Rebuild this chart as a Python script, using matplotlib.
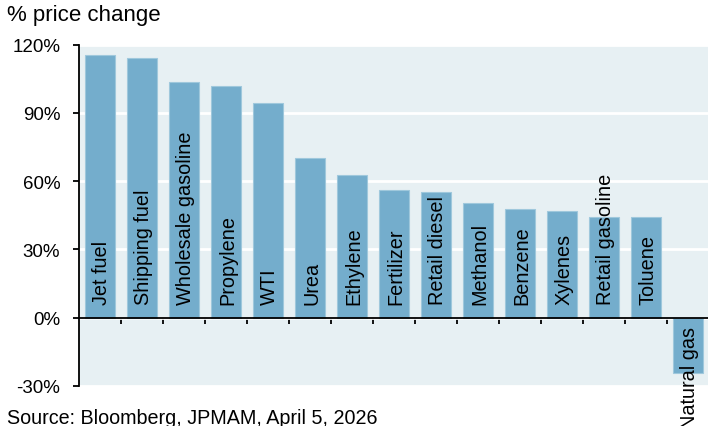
import matplotlib
matplotlib.use("Agg")
import matplotlib.pyplot as plt
import numpy as np

plt.rcParams['font.family'] = ['Liberation Sans', 'DejaVu Sans']

categories = ["Jet fuel", "Shipping fuel", "Wholesale gasoline", "Propylene", "WTI",
              "Urea", "Ethylene", "Fertilizer", "Retail diesel", "Methanol",
              "Benzene", "Xylenes", "Retail gasoline", "Toluene", "Natural gas"]
values = [115.6, 113.9, 103.7, 101.7, 94.1, 70.3, 62.8, 55.9, 55.3, 50.5,
          47.6, 47.0, 44.1, 44.1, -24.5]
y_ticks = [-30, 0, 30, 60, 90, 120]
y_tick_labels = ["-30%", "0%", "30%", "60%", "90%", "120%"]

W, H = 708, 427
fig = plt.figure(figsize=(W / 100, H / 100), dpi=100)
ax = fig.add_axes([79 / W, 1 - 387 / H, 630 / W, (387 - 45.5) / H])

bg = "#e7f0f3"
bar_color = "#74adcc"
ax.set_facecolor(bg)

x = np.arange(len(categories))
ax.bar(x, values, width=0.72, color=bar_color, edgecolor="#9fc8dc", linewidth=0.8, zorder=3)

ax.set_xlim(-0.5, len(categories) - 0.5)
ax.set_ylim(-30, 120)
ax.set_yticks(y_ticks)
ax.set_yticklabels(y_tick_labels)
ax.yaxis.grid(True, color="white", linewidth=2)
ax.set_axisbelow(True)

for s in ["top", "right"]:
    ax.spines[s].set_visible(False)
ax.spines["left"].set_color("black")
ax.spines["left"].set_linewidth(1.3)
ax.spines["bottom"].set_position(("data", 0))
ax.spines["bottom"].set_color("black")
ax.spines["bottom"].set_linewidth(1.3)
ax.spines["bottom"].set_zorder(4)

ax.set_xticks(np.arange(0.5, len(categories) - 0.5, 1.0))
ax.set_xticklabels([])
ax.tick_params(axis="x", direction="out", length=4.5, width=1.3, color="black")
ax.tick_params(axis="y", direction="out", length=4.5, width=1.3, color="black",
               labelsize=13.5, pad=9)

for i, (c, v) in enumerate(zip(categories, values)):
    if v >= 0:
        ax.annotate(c, xy=(i, 0), xytext=(1.3, 10), textcoords="offset points",
                    rotation=90, ha="center", va="bottom", fontsize=14.3,
                    color="black", zorder=5, annotation_clip=False)
    else:
        ax.annotate(c, xy=(i, 0), xytext=(1.3, -6), textcoords="offset points",
                    rotation=90, ha="center", va="top", fontsize=14.3,
                    color="black", zorder=5, annotation_clip=False)

fig.text(7 / W, 1 - 21 / H, "% price change", fontsize=16, ha="left", va="baseline")
fig.text(7 / W, 1 - 424 / H, "Source: Bloomberg, JPMAM, April 5, 2026", fontsize=14.2,
         ha="left", va="baseline")

fig.savefig("out.png", dpi=100)
